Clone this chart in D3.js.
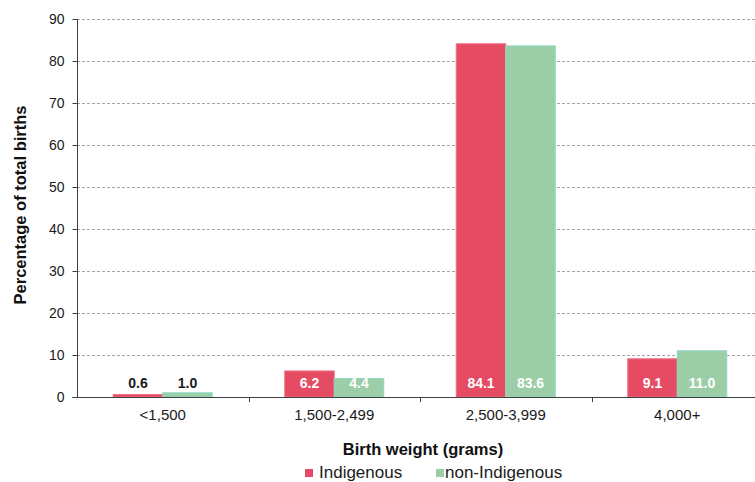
<!DOCTYPE html>
<html><head><meta charset="utf-8">
<script src="https://cdn.jsdelivr.net/npm/d3@7"></script>
<style>body{margin:0;background:#fff}svg{display:block;font-family:"Liberation Sans",Arial,sans-serif}</style>
</head><body><svg id="c" width="755" height="482"></svg>
<script>
const categories = ["<1,500", "1,500-2,499", "2,500-3,999", "4,000+"];
const seriesNames = ["Indigenous", "non-Indigenous"];
const indigenous = [0.6, 6.2, 84.1, 9.1];
const nonIndigenous = [1.0, 4.4, 83.6, 11.0];
const yTicks = [0, 10, 20, 30, 40, 50, 60, 70, 80, 90];
const colors = ["#e54c63", "#9bcea7"];
const strokes = ["#ef6f84", "#8fd8c2"];

(function () {
const svg = d3.select("#c");
const FONT = "Liberation Sans, Arial, sans-serif";
const mLeft = 77, mRight = 763, mTop = 19, mBottom = 397;
const x = d3.scaleBand().domain(categories).range([mLeft, mRight]);
const y = d3.scaleLinear().domain([0, 90]).range([mBottom, mTop]);
const inner = d3.scaleBand().domain(seriesNames).range([0, 99]);
const data = [indigenous, nonIndigenous];

// gridlines
svg.append("g").selectAll("line").data(yTicks.filter(d => d > 0)).join("line")
  .attr("x1", mLeft).attr("x2", 755).attr("y1", d => y(d) + 0.5).attr("y2", d => y(d) + 0.5)
  .attr("stroke", "#a6a6a6").attr("stroke-dasharray", "3,2").attr("stroke-width", 1);

// bars
seriesNames.forEach((s, si) => {
  svg.append("g").selectAll("rect").data(categories).join("rect")
    .attr("x", c => x(c) + x.bandwidth() / 2 - 49.5 + inner(s))
    .attr("width", inner.bandwidth())
    .attr("y", (c, i) => y(data[si][i]))
    .attr("height", (c, i) => mBottom - y(data[si][i]))
    .attr("fill", colors[si]).attr("stroke", strokes[si]).attr("stroke-width", 1);
});

// value labels
seriesNames.forEach((s, si) => {
  svg.append("g").selectAll("text").data(categories).join("text")
    .attr("x", c => x(c) + x.bandwidth() / 2 - 49.5 + inner(s) + inner.bandwidth() / 2)
    .attr("y", 388)
    .attr("text-anchor", "middle")
    .attr("font-size", 14).attr("font-weight", "bold")
    .attr("fill", (c, i) => data[si][i] < 3 ? "#1a1a1a" : "#ffffff")
    .text((c, i) => data[si][i].toFixed(1));
});

// y axis
const yAxis = svg.append("g").attr("transform", `translate(${mLeft + 0.5},0)`)
  .call(d3.axisLeft(y).tickValues(yTicks).tickSize(5).tickPadding(8).tickFormat(d3.format("d")));
yAxis.select(".domain").attr("stroke", "#404040").attr("d", `M-5,${mBottom + 0.5}H0V${mTop}`);
yAxis.selectAll(".tick line").attr("stroke", "#404040");
yAxis.selectAll("text").attr("font-size", 14).attr("fill", "#1a1a1a").attr("font-family", FONT);

// x axis
const xAxis = svg.append("g").attr("transform", `translate(0,${mBottom + 0.5})`)
  .call(d3.axisBottom(x).tickSize(0).tickPadding(12));
xAxis.select(".domain").attr("stroke", "#404040").attr("d", `M${mLeft},0H755`);
xAxis.selectAll("text").attr("font-size", 15).attr("fill", "#1a1a1a").attr("font-family", FONT);
svg.append("g").selectAll("line").data(categories.slice(1)).join("line")
  .attr("x1", c => Math.round(x(c)) + 0.5).attr("x2", c => Math.round(x(c)) + 0.5)
  .attr("y1", mBottom).attr("y2", mBottom + 5).attr("stroke", "#404040");

// axis titles
svg.append("text").attr("x", 423).attr("y", 455).attr("text-anchor", "middle")
  .attr("font-size", 16.5).attr("font-weight", "bold").attr("fill", "#111").text("Birth weight (grams)");
svg.append("text").attr("transform", "translate(26,205) rotate(-90)").attr("text-anchor", "middle")
  .attr("font-size", 16.5).attr("font-weight", "bold").attr("fill", "#111").text("Percentage of total births");

// legend
const legendBox = [305, 436];
const legendText = [319, 445];
seriesNames.forEach((s, si) => {
  svg.append("rect").attr("x", legendBox[si]).attr("y", 469).attr("width", 8).attr("height", 8).attr("fill", colors[si]);
  svg.append("text").attr("x", legendText[si]).attr("y", 477.5).attr("font-size", 17).attr("fill", "#1a1a1a").text(s);
});
})();
</script></body></html>
